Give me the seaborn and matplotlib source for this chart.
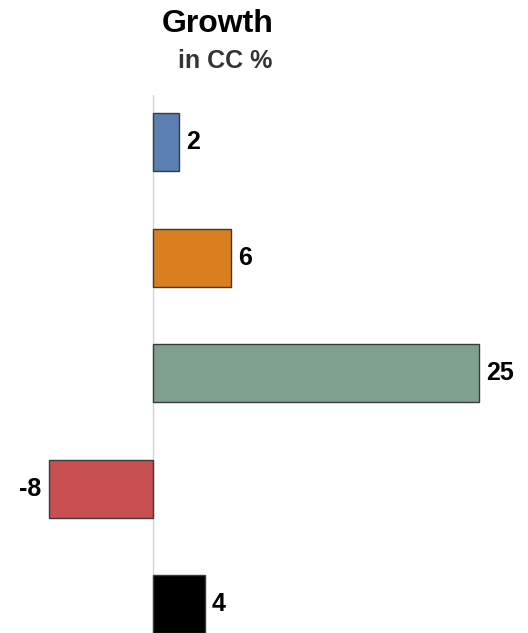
import matplotlib
matplotlib.use("Agg")
import matplotlib.pyplot as plt
import seaborn as sns

# Chart data
categories = ["A", "B", "C", "D", "E"]
growth = [2, 6, 25, -8, 4]
colors = ["#5b7fb0", "#d97f1f", "#7fa08f", "#c85050", "#000000"]

sns.set_style("white")
plt.rcParams['font.family'] = ['Liberation Sans', 'DejaVu Sans']

fig = plt.figure(figsize=(5.28, 6.33), dpi=100)
ax = fig.add_axes([0, 0, 1, 0.85])

# Zero line behind the bars
ax.axvline(0, color="#d4d4d4", lw=1, zorder=0)

sns.barplot(x=growth, y=categories, hue=categories, palette=colors,
            orient="h", width=0.5, saturation=1, edgecolor="#3a3a3a",
            linewidth=1, legend=False, ax=ax, zorder=2)

# Value labels at the bar ends
for c in ax.containers:
    ax.bar_label(c, fmt="%g", padding=5, fontsize=18, fontweight="bold",
                 color="#000000")

ax.set_xlim(-11.73, 28.76)
ax.set_ylim(4.25, -0.41)
ax.set_xticks([])
ax.set_yticks([])
ax.set_xlabel("")
ax.set_ylabel("")
sns.despine(ax=ax, left=True, bottom=True)

# Title and subtitle
fig.text(218 / 528, 1 - 24 / 633, "Growth", ha="center", va="center",
         fontsize=23, fontweight="bold", color="#000000")
fig.text(225 / 528, 1 - 61 / 633, "in CC %", ha="center", va="center",
         fontsize=18, fontweight="bold", color="#333333")

fig.savefig("out.png", dpi=100)
